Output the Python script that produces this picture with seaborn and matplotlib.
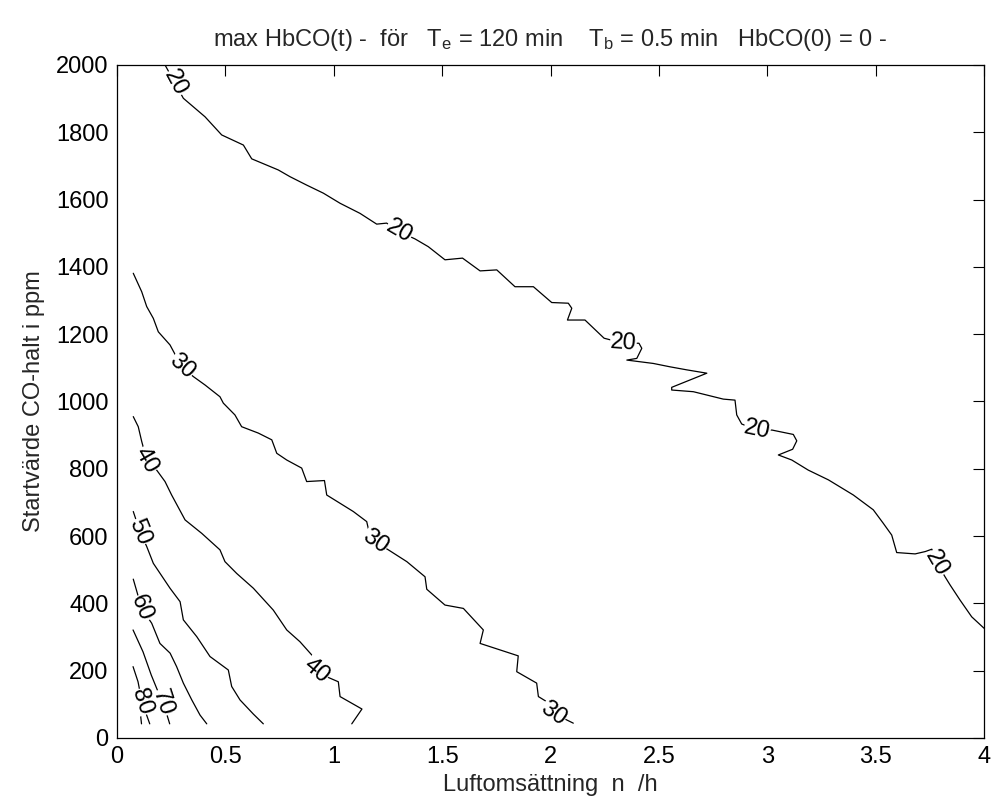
import numpy as np
import pandas as pd
import matplotlib
matplotlib.use("Agg")
import matplotlib.pyplot as plt
import seaborn as sns

# ---------------- data ----------------
c20_x = [0.2215, 0.2676, 0.306, 0.406, 0.483, 0.583, 0.6215, 0.744, 0.798, 0.875, 0.952, 1.029,
         1.121, 1.198, 1.244, 1.301, 1.375, 1.436, 1.513, 1.594, 1.675, 1.752, 1.836, 1.921,
         2.0055, 2.082, 2.098, 2.078, 2.159, 2.247, 2.336, 2.408, 2.421, 2.398, 2.352, 2.474,
         2.551, 2.628, 2.721, 2.559, 2.559, 2.659, 2.797, 2.851, 2.859, 2.882, 2.953, 3.022,
         3.120, 3.136, 3.117, 3.051, 3.113, 3.189, 3.282, 3.397, 3.489, 3.535, 3.574, 3.597,
         3.682, 3.729, 3.759, 3.783, 3.820, 3.843, 3.889, 3.943, 4.0]
c20_y = [2000, 1946, 1901, 1846, 1792, 1762, 1721, 1688, 1668, 1643, 1619, 1589,
         1559, 1527, 1530, 1505, 1483, 1460, 1421, 1426, 1388, 1391, 1341, 1341,
         1294, 1292, 1277, 1242, 1242, 1188, 1173, 1173, 1158, 1128, 1123, 1113,
         1103, 1094, 1084, 1042, 1034, 1029, 1007, 1004, 960, 933, 915, 915,
         902, 883, 858, 841, 826, 796, 767, 722, 678, 638, 603, 551,
         547, 554, 561, 520, 479, 455, 410, 360, 326]

c30_x = [0.075, 0.114, 0.137, 0.1675, 0.1905, 0.2445, 0.2985, 0.352, 0.406, 0.475, 0.4905,
         0.544, 0.575, 0.652, 0.714, 0.737, 0.783, 0.852, 0.875, 0.957, 0.9675, 1.090,
         1.152, 1.159, 1.190, 1.252, 1.337, 1.421, 1.429, 1.513, 1.598, 1.690, 1.675,
         1.851, 1.844, 1.936, 1.944, 1.982, 2.013, 2.105]
c30_y = [1381, 1326, 1282, 1247, 1207, 1168, 1103, 1074, 1049, 1014, 995,
         960, 925, 906, 886, 846, 826, 802, 762, 765, 722, 673,
         643, 623, 583, 559, 524, 479, 442, 395, 385, 321, 281,
         244, 197, 163, 123, 108, 73, 44]

c40_x = [0.075, 0.098, 0.114, 0.137, 0.183, 0.2215, 0.252, 0.314, 0.391, 0.475, 0.498,
         0.552, 0.629, 0.721, 0.783, 0.844, 0.898, 0.918, 0.967, 1.021, 1.029, 1.130, 1.083]
c40_y = [955, 925, 881, 826, 796, 762, 722, 648, 608, 559, 524,
         489, 445, 380, 321, 286, 247, 199, 182, 167, 123, 86, 42]

c50_x = [0.075, 0.106, 0.137, 0.1675, 0.2445, 0.291, 0.306, 0.368, 0.429, 0.5135, 0.529,
         0.5675, 0.629, 0.675]
c50_y = [673, 613, 569, 519, 445, 405, 351, 301, 242, 202, 153, 113, 71, 42]

c60_x = [0.075, 0.114, 0.160, 0.198, 0.245, 0.275, 0.306, 0.345, 0.383, 0.414]
c60_y = [472, 385, 341, 281, 252, 212, 163, 113, 68, 42]

c70_x = [0.074, 0.120, 0.158, 0.189, 0.212, 0.235, 0.243]
c70_y = [321, 256, 187, 138, 107, 59, 42]

c80_x = [0.074, 0.097, 0.115, 0.151]
c80_y = [212, 167, 107, 42]

c90_x = [0.098, 0.113]
c90_y = [130, 42]

label_x = [0.2676, 1.301, 2.336, 2.953, 3.783, 0.2985, 1.190, 2.013, 0.137, 0.918, 0.106, 0.114, 0.212, 0.115]
label_y = [1946, 1505, 1173, 915, 520, 1103, 583, 73, 826, 199, 613, 385, 105, 107]
label_text = ["20", "20", "20", "20", "20", "30", "30", "30", "40", "40", "50", "60", "70", "80"]
label_rot = [-62, -30, -4, -12, -60, -42, -35, -35, -60, -40, -68, -68, -72, -72]

x_ticks = [0, 0.5, 1, 1.5, 2, 2.5, 3, 3.5, 4]
y_ticks = [0, 200, 400, 600, 800, 1000, 1200, 1400, 1600, 1800, 2000]

title_text = (r"max HbCO(t) -  för   T$_{\rm e}$ = 120 min    "
              r"T$_{\rm b}$ = 0.5 min   HbCO(0) = 0 -")
x_label = "Luftomsättning  n  /h"
y_label = "Startvärde CO-halt i ppm"

# ---------------- build table ----------------
frames = []
for lvl, xs, ys in [(20, c20_x, c20_y), (30, c30_x, c30_y), (40, c40_x, c40_y),
                    (50, c50_x, c50_y), (60, c60_x, c60_y), (70, c70_x, c70_y),
                    (80, c80_x, c80_y), (90, c90_x, c90_y)]:
    frames.append(pd.DataFrame({"x": xs, "y": ys, "level": lvl,
                                "order": np.arange(len(xs))}))
df = pd.concat(frames, ignore_index=True)

# ---------------- style ----------------
sns.set_style("white")
plt.rcParams["font.family"] = ["Liberation Sans", "DejaVu Sans"]
plt.rcParams["mathtext.fontset"] = "custom"
plt.rcParams["mathtext.rm"] = "Liberation Sans"
plt.rcParams["mathtext.it"] = "Liberation Sans"

fig = plt.figure(figsize=(9.95, 8.09), dpi=100)
ax = fig.add_axes([0.1176, 0.0878, 0.8714, 0.8319])

for lvl, sub in df.groupby("level"):
    sns.lineplot(data=sub, x="x", y="y", sort=False, estimator=None,
                 color="black", linewidth=0.9, ax=ax, zorder=2)

for tx, ty, tt, tr in zip(label_x, label_y, label_text, label_rot):
    ax.text(tx, ty, tt, rotation=tr, rotation_mode="anchor", ha="center", va="center",
            fontsize=17, color="black", zorder=3,
            bbox=dict(facecolor="white", edgecolor="none", pad=0.2))

ax.set_xlim(0, 4)
ax.set_ylim(0, 2000)
ax.set_xticks(x_ticks)
ax.set_xticklabels([f"{v:g}" for v in x_ticks])
ax.set_yticks(y_ticks)
ax.set_yticklabels([f"{v:g}" for v in y_ticks])
ax.tick_params(direction="in", length=8, width=0.8, top=True, right=True,
               labelsize=17, pad=6, colors="black")
for sp in ax.spines.values():
    sp.set_visible(True)
    sp.set_color("black")
    sp.set_linewidth(0.9)

ax.set_xlabel(x_label, fontsize=17, labelpad=4)
ax.set_ylabel(y_label, fontsize=17, labelpad=8)
ax.set_title(title_text, fontsize=17, pad=14)

fig.savefig("out.png", dpi=100, facecolor="white")
